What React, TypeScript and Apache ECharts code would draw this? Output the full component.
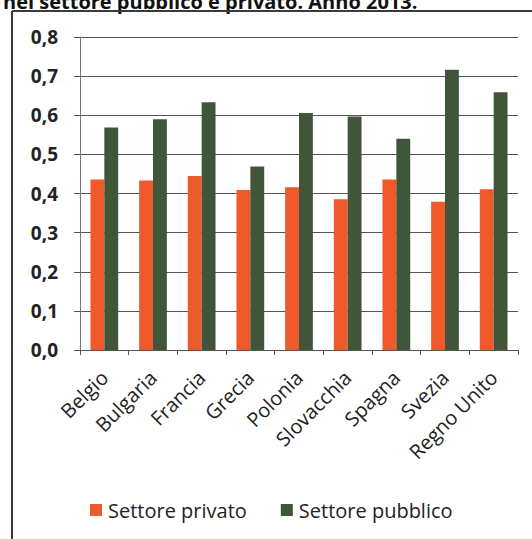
import React, { useEffect, useRef } from "react";
import * as echarts from "echarts";

const categories = ["Belgio", "Bulgaria", "Francia", "Grecia", "Polonia", "Slovacchia", "Spagna", "Svezia", "Regno Unito"];
const privato = [0.436, 0.433, 0.445, 0.409, 0.416, 0.385, 0.436, 0.379, 0.411];
const pubblico = [0.569, 0.59, 0.633, 0.469, 0.606, 0.597, 0.54, 0.716, 0.659];
const seriesNames = ["Settore privato", "Settore pubblico"];
const titleText = "nel settore pubblico e privato. Anno 2013.";

const FONT = "'Open Sans', 'DejaVu Sans', sans-serif";

export default function App() {
  const ref = useRef<HTMLDivElement>(null);
  useEffect(() => {
    if (!ref.current) return;
    const chart = echarts.init(ref.current, null, { renderer: "svg" });
    chart.setOption({
      animation: false,
      backgroundColor: "#ffffff",
      textStyle: { fontFamily: FONT },
      graphic: [
        {
          type: "text",
          x: 3,
          y: 11,
          style: {
            text: titleText,
            fontFamily: FONT,
            fontWeight: "bold",
            fontSize: 20,
            fill: "#111",
            verticalAlign: "bottom",
          },
        },
        { type: "line", shape: { x1: 12, y1: 11, x2: 532, y2: 11 }, style: { stroke: "#3a3a3a", lineWidth: 2 } },
        { type: "line", shape: { x1: 12, y1: 11, x2: 12, y2: 539 }, style: { stroke: "#3a3a3a", lineWidth: 2 } },
      ],
      grid: { left: 80, right: 14, top: 37, bottom: 189, containLabel: false },
      legend: {
        left: 85,
        top: 495,
        itemWidth: 12,
        itemHeight: 12,
        itemGap: 34,
        icon: "rect",
        textStyle: { fontFamily: FONT, fontSize: 20, color: "#222", padding: [0, 0, 0, 1] },
        data: seriesNames,
      },
      xAxis: {
        type: "category",
        data: categories,
        axisLine: { lineStyle: { color: "#555", width: 1 } },
        axisTick: { show: true, length: 5, lineStyle: { color: "#555" } },
        axisLabel: { rotate: 45, margin: 24, fontSize: 20, color: "#222", fontFamily: FONT },
      },
      yAxis: {
        type: "value",
        min: 0,
        max: 0.8,
        interval: 0.1,
        axisLine: { show: true, lineStyle: { color: "#777", width: 1 } },
        axisTick: { show: true, length: 6, lineStyle: { color: "#555" } },
        splitLine: { lineStyle: { color: "#555", width: 1 } },
        axisLabel: {
          margin: 22,
          fontSize: 19,
          fontWeight: "bold",
          color: "#222",
          fontFamily: FONT,
          formatter: (v: number) => v.toFixed(1).replace(".", ","),
        },
      },
      series: [
        {
          name: seriesNames[0],
          type: "bar",
          data: privato,
          barGap: "0%",
          barCategoryGap: "43%",
          itemStyle: { color: "#EE5A2A" },
        },
        {
          name: seriesNames[1],
          type: "bar",
          data: pubblico,
          itemStyle: { color: "#41553A" },
        },
      ],
    });
    return () => chart.dispose();
  }, []);
  return <div ref={ref} style={{ position: "fixed", left: 0, top: 0, width: 532, height: 539 }} />;
}
